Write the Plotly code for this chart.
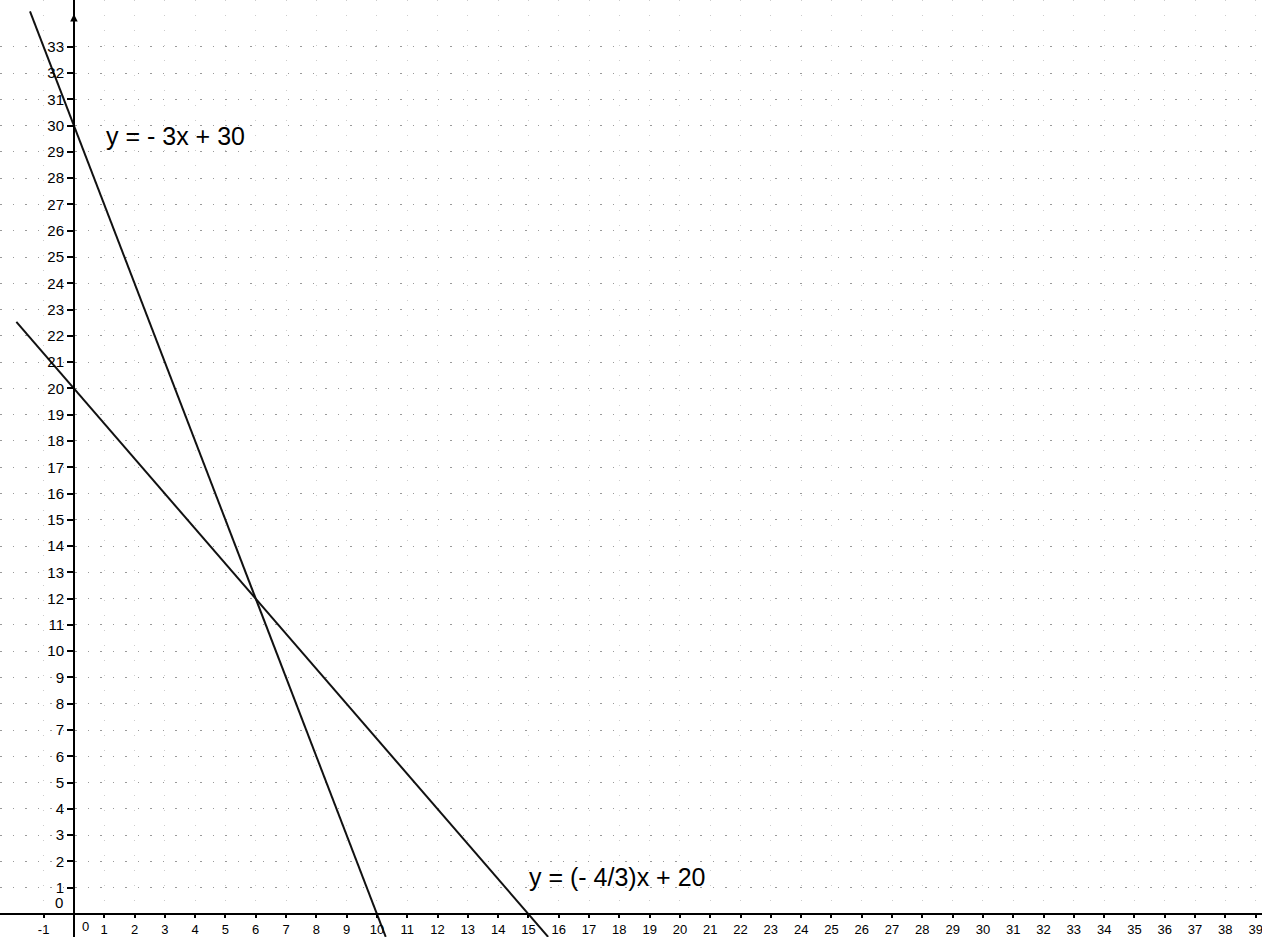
import plotly.graph_objects as go

# Data
x_ticks = [v for v in range(-1, 40) if v != 0]
y_ticks = list(range(1, 34))
line1_x = [-1.45, 10.29]
line1_y = [34.35, -0.87]
line2_x = [-1.9, 15.65]
line2_y = [22.53, -0.87]
label1 = "y = - 3x + 30"
label2 = "y = (- 4/3)x + 20"

X_RANGE = [-2.44, 39.21]
Y_RANGE = [-0.875, 34.78]
x_axis_pos = (0 - Y_RANGE[0]) / (Y_RANGE[1] - Y_RANGE[0])
y_axis_pos = (0 - X_RANGE[0]) / (X_RANGE[1] - X_RANGE[0])

FONT = "Liberation Sans, Arial, sans-serif"

fig = go.Figure()
fig.add_trace(go.Scatter(x=line1_x, y=line1_y, mode="lines",
                         line=dict(color="#111111", width=2), showlegend=False,
                         cliponaxis=False))
fig.add_trace(go.Scatter(x=line2_x, y=line2_y, mode="lines",
                         line=dict(color="#111111", width=2), showlegend=False,
                         cliponaxis=False))

fig.update_layout(
    width=1262, height=937,
    margin=dict(l=0, r=0, t=0, b=0, pad=0),
    paper_bgcolor="white", plot_bgcolor="white",
    font=dict(family=FONT, size=14, color="black"),
    xaxis=dict(range=X_RANGE, anchor="free", position=x_axis_pos, automargin=False,
               tickvals=x_ticks, ticktext=[str(v) for v in x_ticks],
               ticks="outside", ticklen=3, tickwidth=1.5, tickcolor="black",
               ticklabeloverflow="allow",
               showline=True, linecolor="black", linewidth=1.8,
               showgrid=True, gridcolor="#cccccc", griddash="1px,14px", gridwidth=1,
               zeroline=False, tickfont=dict(size=13, family=FONT)),
    yaxis=dict(range=Y_RANGE, anchor="free", position=y_axis_pos, automargin=False,
               tickvals=y_ticks, ticktext=[str(v) for v in y_ticks],
               ticks="outside", ticklen=6, tickwidth=1.5, tickcolor="black",
               ticklabeloverflow="allow",
               showline=True, linecolor="black", linewidth=1.8,
               showgrid=True, gridcolor="#9a9a9a", griddash="1.5px,11px", gridwidth=1,
               zeroline=False, tickfont=dict(size=15, family=FONT)),
)

fig.add_annotation(x=0, y=0, xref="x", yref="y", text="0", showarrow=False,
                   xanchor="left", yanchor="top", xshift=6, yshift=-3,
                   font=dict(size=13, family=FONT))
fig.add_annotation(x=0, y=0, xref="x", yref="y", text="0", showarrow=False,
                   xanchor="right", yanchor="bottom", xshift=-9, yshift=1,
                   font=dict(size=15, family=FONT))
fig.add_annotation(x=0, y=34.25, ax=0, ay=33.6, xref="x", yref="y", axref="x", ayref="y",
                   text="", showarrow=True, arrowhead=2, arrowsize=1, arrowwidth=1.5,
                   arrowcolor="black")
fig.add_annotation(x=1.0, y=29.6, xref="x", yref="y", text=label1, showarrow=False,
                   xanchor="left", yanchor="middle", font=dict(size=25, family=FONT))
fig.add_annotation(x=14.95, y=1.4, xref="x", yref="y", text=label2, showarrow=False,
                   xanchor="left", yanchor="middle", font=dict(size=25, family=FONT))

fig.write_html("out.html", config={"displayModeBar": False},
               post_script="document.body.style.margin='0';document.body.style.overflow='hidden';")
